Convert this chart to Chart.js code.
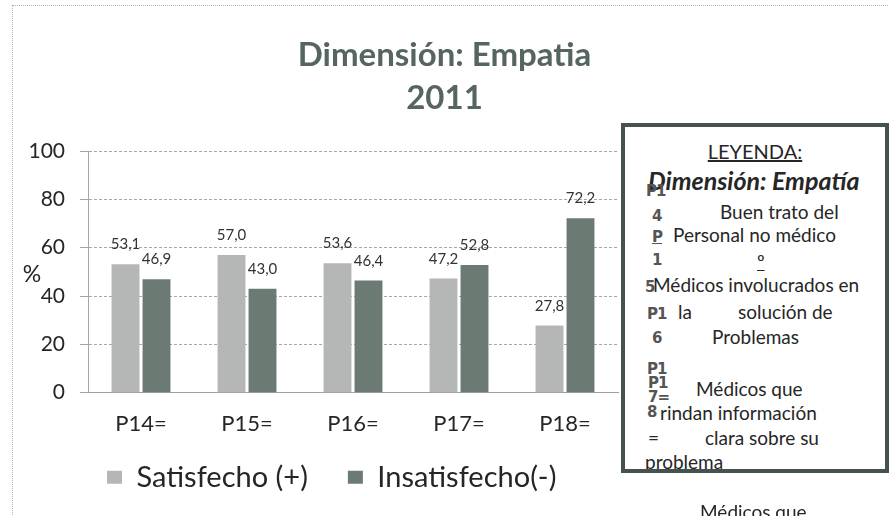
<!DOCTYPE html>
<html>
<head>
<meta charset="utf-8">
<script src="https://cdn.jsdelivr.net/npm/chart.js@4.4.1/dist/chart.umd.min.js"></script>
<style>
  html, body { margin: 0; padding: 0; background: #fff; overflow: hidden; }
  body { width: 889px; height: 516px; position: relative; font-family: Lato, sans-serif; }
  #frame { position: absolute; left: 12px; top: 5px; width: 900px; height: 600px; border: 1px dotted #b4b4b4; }
  #c { position: absolute; left: 0; top: 0; }
  #box { position: absolute; left: 621px; top: 123px; width: 260px; height: 342px; border: 4px solid #44544c; background: #fff; overflow: hidden; }
  .t { position: absolute; white-space: nowrap; color: #262626; font-size: 19px; line-height: 1; }
  .k { position: absolute; white-space: nowrap; color: #555; font: bold 15px "DejaVu Sans"; letter-spacing: -1px; line-height: 1; }
  #below { position: absolute; left: 700px; top: 502px; white-space: nowrap; color: #262626; font-size: 19px; line-height: 1; }
</style>
</head>
<body>
<div id="frame"></div>
<canvas id="c" width="889" height="516"></canvas>

<div id="box">
  <span class="t" style="left:0;width:260px;text-align:center;top:14px;font-size:20px;text-decoration:underline">LEYENDA:</span>
  <span class="t" style="left:23px;top:41px;font-size:25px;font-style:italic;font-weight:bold">Dimensión: Empatía</span>
  <span class="k" style="left:21px;top:57px">P1</span>
  <span class="k" style="left:27px;top:82px">4</span>
  <span class="k" style="left:27px;top:103px;text-decoration:underline">P</span>
  <span class="k" style="left:27px;top:126px">1</span>
  <span class="k" style="left:20px;top:153px">5</span>
  <span class="k" style="left:22px;top:180px">P1</span>
  <span class="k" style="left:27px;top:204px">6</span>
  <span class="k" style="left:22px;top:235px">P1</span>
  <span class="k" style="left:23px;top:249px">P1</span>
  <span class="k" style="left:23px;top:263px">7=</span>
  <span class="k" style="left:22px;top:278px">8</span>
  <span class="t" style="left:95px;top:75px">Buen trato del</span>
  <span class="t" style="left:48px;top:98px">Personal no médico</span>
  <span class="t" style="left:132px;top:125px;text-decoration:underline">º</span>
  <span class="t" style="left:28px;top:148px">Médicos involucrados en</span>
  <span class="t" style="left:53px;top:175px">la</span>
  <span class="t" style="left:113px;top:175px">solución de</span>
  <span class="t" style="left:87px;top:200px">Problemas</span>
  <span class="t" style="left:71px;top:252px">Médicos que</span>
  <span class="t" style="left:35px;top:276px">rindan información</span>
  <span class="t" style="left:23px;top:301px">=</span>
  <span class="t" style="left:80px;top:301px">clara sobre su</span>
  <span class="t" style="left:20px;top:325px">problema</span>
</div>
<div id="below">Médicos que</div>

<script>
// datos
const categories = ['P14=', 'P15=', 'P16=', 'P17=', 'P18='];
const satisfecho = [53.1, 57.0, 53.6, 47.2, 27.8];
const insatisfecho = [46.9, 43.0, 46.4, 52.8, 72.2];
const yTicks = [0, 20, 40, 60, 80, 100];
const seriesNames = ['Satisfecho (+)', 'Insatisfecho(-)'];
const titleLines = ['Dimensión: Empatia', '2011'];

// etiquetas de valor encima de cada barra
const valueLabels = {
    id: 'valueLabels',
    afterDatasetsDraw(chart) {
        const ctx = chart.ctx;
        ctx.save();
        ctx.font = '15px Lato';
        ctx.fillStyle = '#333';
        ctx.textAlign = 'center';
        ctx.textBaseline = 'alphabetic';
        chart.data.datasets.forEach((ds, i) => {
            chart.getDatasetMeta(i).data.forEach((bar, j) => {
                ctx.fillText(ds.data[j].toFixed(1).replace('.', ','), bar.x, bar.y - 15);
            });
        });
        ctx.restore();
    }
};

// el "%" del eje vertical, sin girar
const yTitle = {
    id: 'yTitle',
    afterDraw(chart) {
        const ctx = chart.ctx;
        const y = chart.scales.y;
        ctx.save();
        ctx.font = '23px Lato';
        ctx.fillStyle = '#262626';
        ctx.textAlign = 'center';
        ctx.textBaseline = 'middle';
        ctx.fillText('%', chart.chartArea.left - 56, y.getPixelForValue(49));
        ctx.restore();
    }
};

// la leyenda queda debajo de los rótulos P14=... y algo corrida a la derecha
const legendPlace = {
    id: 'legendPlace',
    afterLayout(chart) {
        const lg = chart.legend;
        lg.left = 67;
        lg.top = chart.chartArea.bottom + 30;
        lg.bottom = chart.height;
        lg.height = lg.bottom - lg.top;
    }
};

const ctx = document.getElementById('c').getContext('2d');
const chart = new Chart(ctx, {
    type: 'bar',
    data: {
        labels: categories,
        datasets: [{
            label: seriesNames[0],
            data: satisfecho,
            backgroundColor: '#b5b7b6',
            categoryPercentage: 0.585,
            barPercentage: 0.9
        }, {
            label: seriesNames[1],
            data: insatisfecho,
            backgroundColor: '#6b7b73',
            categoryPercentage: 0.585,
            barPercentage: 0.9
        }]
    },
    options: {
        responsive: false,
        animation: false,
        layout: { padding: { left: 20, right: 20, top: 0, bottom: 33.3 } },
        plugins: {
            title: {
                display: true,
                text: titleLines,
                color: '#56665e',
                font: { family: 'Lato', size: 33, weight: 'bold', lineHeight: 43 / 33 },
                padding: { top: 34, bottom: 31 }
            },
            legend: {
                position: 'bottom',
                align: 'start',
                maxHeight: 40,
                labels: {
                    boxWidth: 15,
                    boxHeight: 13,
                    padding: 40,
                    color: '#262626',
                    font: { family: 'Lato', size: 29 }
                }
            },
            tooltip: { enabled: false }
        },
        scales: {
            x: {
                afterFit: s => { s.height = 50; },
                grid: { display: false, drawTicks: false },
                border: { display: true, color: '#a0a0a0' },
                ticks: { color: '#262626', padding: 18, font: { family: 'Lato', size: 22 } }
            },
            y: {
                min: 0,
                max: 100,
                afterFit: s => { s.width = 68; },
                afterBuildTicks: s => { s.ticks = yTicks.map(v => ({ value: v })); },
                grid: { color: '#a6a6a6', tickLength: 8 },
                border: { color: '#a6a6a6', dash: [3, 2] },
                ticks: { color: '#262626', padding: 15, font: { family: 'Lato', size: 21 } }
            },
            y2: {
                position: 'right',
                afterFit: s => { s.width = 251; },
                grid: { display: false },
                border: { display: false },
                ticks: { display: false }
            }
        }
    },
    plugins: [valueLabels, yTitle, legendPlace]
});
</script>
</body>
</html>
